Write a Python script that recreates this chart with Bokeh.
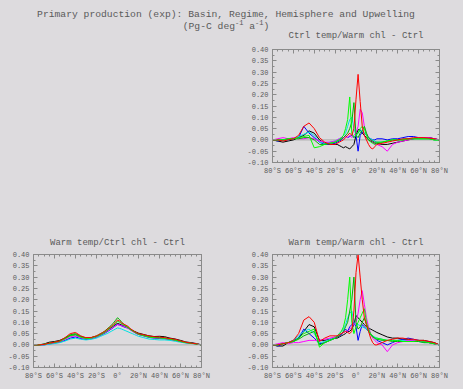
from bokeh.plotting import figure
from bokeh.layouts import column, row
from bokeh.models import Div, Range1d, FixedTicker, Span, Title, LinearAxis
from bokeh.embed import file_html
from bokeh.resources import INLINE

# ---------------- data ----------------
lat = [-80, -75, -70, -65, -60, -55, -50, -45, -40, -35, -30, -25,
       -20, -18, -16, -14, -12, -10, -8, -6, -4, -2, 0, 2, 4, 6, 8, 10, 12, 14, 16, 18, 20,
       25, 30, 35, 40, 45, 50, 55, 60, 65, 70, 75, 80]

x_ticks = [-80, -60, -40, -20, 0, 20, 40, 60, 80]
x_tick_labels = ["80°S", "60°S", "40°S", "20°S", "0°", "20°N", "40°N", "60°N", "80°N"]
x_minor = [-80, -75, -70, -65, -60, -55, -50, -45, -40, -35, -30, -25, -20, -15, -10, -5,
           0, 5, 10, 15, 20, 25, 30, 35, 40, 45, 50, 55, 60, 65, 70, 75, 80]
y_ticks = [-0.10, -0.05, 0.00, 0.05, 0.10, 0.15, 0.20, 0.25, 0.30, 0.35, 0.40]
y_tick_labels = ["-0.10", "-0.05", "0.00", "0.05", "0.10", "0.15", "0.20", "0.25", "0.30", "0.35", "0.40"]
y_minor = [-0.10, -0.075, -0.05, -0.025, 0.0, 0.025, 0.05, 0.075, 0.10, 0.125, 0.15, 0.175,
           0.20, 0.225, 0.25, 0.275, 0.30, 0.325, 0.35, 0.375, 0.40]

series_colors = ["#000000", "#0000ff", "#00e0e0", "#ff00ff", "#00b400", "#00ff00", "#ff0000"]

# Panel A: Ctrl temp/Warm chl - Ctrl
a_black = [0, -0.005, -0.01, -0.005, 0.0, 0.01, 0.02, 0.04, 0.03, 0.0, -0.015, -0.02,
           -0.02, -0.02, -0.025, -0.03, -0.035, -0.03, -0.035, -0.04, -0.03, -0.02, 0.02, 0.045, 0.045, 0.03, 0.02, 0.01, 0.0, -0.005, -0.01, -0.015, -0.015,
           -0.02, -0.02, -0.015, -0.01, -0.005, 0.0, 0.005, 0.01, 0.01, 0.01, 0.005, 0]
a_blue = [0, -0.005, 0.0, 0.0, 0.005, 0.01, 0.06, 0.03, 0.01, -0.01, -0.02, -0.02,
          -0.015, -0.01, -0.005, 0.0, 0.01, 0.02, 0.01, 0.015, 0.02, 0.01, 0.02, -0.05, 0.02, 0.035, 0.03, 0.02, 0.01, 0.005, 0.0, 0.0, 0.005,
          0.005, 0.0, 0.005, 0.005, 0.01, 0.015, 0.015, 0.01, 0.01, 0.01, 0.005, 0]
a_cyan = [0, 0, 0, 0.0, 0.005, 0.015, 0.025, 0.035, 0.02, -0.01, -0.015, -0.01,
          -0.005, 0.0, 0.005, 0.01, 0.02, 0.03, 0.06, 0.09, 0.1, 0.05, 0.02, 0.03, 0.04, 0.04, 0.03, 0.02, 0.01, 0.005, 0.0, -0.005, -0.01,
          -0.01, -0.005, 0.0, 0.0, 0.005, 0.005, 0.005, 0.005, 0.005, 0.005, 0.0, 0]
a_magenta = [0, 0.005, 0.01, 0.005, 0.01, 0.005, 0.005, 0.01, 0.005, -0.005, -0.01, -0.01,
             -0.005, 0.0, 0.005, 0.01, 0.01, 0.015, 0.01, 0.02, 0.01, 0.02, 0.03, 0.06, 0.135, 0.12, 0.06, 0.03, 0.01, 0.0, -0.01, -0.02, -0.02,
             -0.03, -0.05, -0.02, -0.01, -0.005, 0.0, 0.005, 0.01, 0.01, 0.01, 0.005, 0]
a_green = [0, 0, 0.0, 0.005, 0.005, 0.005, 0.01, 0.01, 0.0, -0.02, -0.02, -0.015,
           -0.01, -0.005, 0.0, 0.005, 0.01, 0.02, 0.03, 0.05, 0.08, 0.165, 0.02, 0.01, 0.03, 0.04, 0.06, 0.03, 0.01, 0.0, -0.005, -0.01, -0.01,
           -0.01, -0.005, 0.0, 0.0, 0.0, 0.005, 0.005, 0.005, 0.005, 0.005, 0.0, 0]
a_lime = [0, 0, 0, 0.005, 0.005, 0.01, 0.015, 0.02, -0.035, -0.03, -0.02, -0.015,
          -0.01, -0.005, 0.0, 0.01, 0.02, 0.05, 0.09, 0.19, 0.03, 0.01, 0.02, 0.03, 0.05, 0.06, 0.05, 0.02, 0.0, -0.01, -0.015, -0.02, -0.015,
          -0.01, -0.005, 0.0, 0.0, 0.0, 0.005, 0.005, 0.005, 0.005, 0.005, 0.0, 0]
a_red = [0, 0, -0.005, 0.0, 0.005, 0.02, 0.06, 0.075, 0.05, 0.01, -0.01, -0.02,
         -0.02, -0.015, -0.01, -0.005, 0.0, 0.01, 0.02, 0.03, 0.02, 0.05, 0.18, 0.29, 0.17, 0.06, 0.02, 0.0, -0.02, -0.035, -0.04, -0.03, -0.02,
         -0.015, -0.01, -0.005, 0.0, 0.005, 0.005, 0.01, 0.01, 0.01, 0.008, 0.005, 0]

# Panel B: Warm temp/Ctrl chl - Ctrl
b_black = [0, 0.0, 0.004, 0.012, 0.015, 0.02, 0.03, 0.042, 0.045, 0.035, 0.03, 0.032,
           0.038, 0.042, 0.046, 0.05, 0.055, 0.062, 0.07, 0.076, 0.082, 0.09, 0.095, 0.092, 0.088, 0.084, 0.08, 0.075, 0.07, 0.065, 0.06, 0.056, 0.052,
           0.046, 0.04, 0.037, 0.038, 0.036, 0.03, 0.026, 0.02, 0.013, 0.01, 0.006, 0]
b_blue = [0, 0.0, 0.0, 0.004, 0.008, 0.012, 0.02, 0.03, 0.035, 0.028, 0.024, 0.027,
          0.034, 0.038, 0.042, 0.047, 0.052, 0.058, 0.064, 0.07, 0.077, 0.084, 0.09, 0.088, 0.084, 0.08, 0.077, 0.074, 0.068, 0.062, 0.056, 0.05, 0.046,
          0.04, 0.033, 0.03, 0.028, 0.027, 0.024, 0.02, 0.014, 0.01, 0.008, 0.005, 0]
b_cyan = [0, 0.0, 0.0, 0.003, 0.006, 0.01, 0.017, 0.026, 0.03, 0.025, 0.022, 0.025,
          0.03, 0.034, 0.038, 0.042, 0.046, 0.05, 0.055, 0.06, 0.065, 0.07, 0.075, 0.073, 0.07, 0.066, 0.062, 0.058, 0.054, 0.05, 0.046, 0.042, 0.038,
          0.032, 0.026, 0.024, 0.022, 0.022, 0.02, 0.016, 0.012, 0.008, 0.006, 0.004, 0]
b_magenta = [0, 0.0, 0.002, 0.006, 0.01, 0.014, 0.024, 0.036, 0.04, 0.032, 0.027, 0.029,
             0.036, 0.04, 0.044, 0.049, 0.054, 0.06, 0.066, 0.072, 0.078, 0.085, 0.09, 0.088, 0.085, 0.082, 0.078, 0.073, 0.067, 0.06, 0.055, 0.05, 0.046,
             0.04, 0.034, 0.031, 0.03, 0.028, 0.025, 0.02, 0.015, 0.01, 0.007, 0.004, 0]
b_green = [0, 0.0, 0.003, 0.008, 0.012, 0.017, 0.03, 0.045, 0.05, 0.038, 0.03, 0.032,
           0.04, 0.045, 0.05, 0.055, 0.062, 0.07, 0.078, 0.087, 0.096, 0.108, 0.12, 0.112, 0.1, 0.092, 0.085, 0.078, 0.07, 0.064, 0.058, 0.053, 0.048,
           0.042, 0.036, 0.033, 0.032, 0.03, 0.026, 0.022, 0.016, 0.011, 0.008, 0.004, 0]
b_lime = [0, 0.0, 0.002, 0.007, 0.011, 0.015, 0.027, 0.04, 0.045, 0.034, 0.028, 0.03,
          0.037, 0.041, 0.045, 0.05, 0.056, 0.063, 0.07, 0.078, 0.086, 0.095, 0.105, 0.1, 0.094, 0.088, 0.082, 0.076, 0.069, 0.063, 0.057, 0.052, 0.047,
          0.041, 0.035, 0.032, 0.031, 0.029, 0.025, 0.021, 0.015, 0.01, 0.007, 0.004, 0]
b_red = [0, 0.0, 0.002, 0.008, 0.012, 0.018, 0.032, 0.05, 0.055, 0.04, 0.032, 0.033,
         0.04, 0.045, 0.05, 0.055, 0.06, 0.068, 0.075, 0.082, 0.09, 0.1, 0.11, 0.105, 0.097, 0.092, 0.087, 0.082, 0.073, 0.066, 0.06, 0.055, 0.05,
         0.045, 0.04, 0.036, 0.035, 0.032, 0.028, 0.025, 0.018, 0.012, 0.008, 0.005, 0]

# Panel C: Warm temp/Warm chl - Ctrl
c_black = [0, -0.005, -0.005, 0.01, 0.015, 0.03, 0.06, 0.09, 0.08, 0.02, 0.02, 0.025,
           0.03, 0.03, 0.035, 0.04, 0.045, 0.05, 0.06, 0.06, 0.07, 0.09, 0.13, 0.12, 0.11, 0.1, 0.09, 0.08, 0.075, 0.07, 0.065, 0.06, 0.055,
           0.045, 0.035, 0.03, 0.03, 0.025, 0.025, 0.02, 0.02, 0.02, 0.015, 0.01, 0]
c_blue = [0, -0.005, 0.005, 0.01, 0.02, 0.03, 0.07, 0.05, 0.03, 0.005, 0.01, 0.02,
          0.03, 0.035, 0.04, 0.045, 0.06, 0.07, 0.06, 0.08, 0.09, 0.1, 0.08, 0.02, 0.06, 0.09, 0.08, 0.07, 0.06, 0.05, 0.04, 0.03, 0.02,
          0.01, 0.0, 0.01, 0.02, 0.025, 0.03, 0.025, 0.02, 0.015, 0.01, 0.005, 0]
c_cyan = [0, 0, 0.005, 0.01, 0.02, 0.04, 0.06, 0.07, 0.05, 0.01, 0.015, 0.025,
          0.035, 0.04, 0.05, 0.06, 0.07, 0.09, 0.12, 0.14, 0.15, 0.1, 0.09, 0.09, 0.085, 0.08, 0.075, 0.07, 0.06, 0.05, 0.04, 0.035, 0.03,
          0.025, 0.02, 0.02, 0.02, 0.02, 0.02, 0.02, 0.015, 0.01, 0.01, 0.005, 0]
c_magenta = [0, 0.005, 0.01, 0.005, 0.01, 0.01, 0.015, 0.02, 0.02, 0.02, 0.025, 0.03,
             0.035, 0.04, 0.045, 0.05, 0.055, 0.06, 0.06, 0.07, 0.08, 0.09, 0.1, 0.14, 0.2, 0.24, 0.18, 0.12, 0.08, 0.05, 0.03, 0.02, 0.01,
             0.0, -0.03, 0.0, 0.01, 0.015, 0.02, 0.02, 0.02, 0.015, 0.01, 0.005, 0]
c_green = [0, 0, 0.005, 0.01, 0.015, 0.025, 0.04, 0.05, 0.06, 0.0, 0.01, 0.02,
           0.03, 0.035, 0.04, 0.05, 0.06, 0.08, 0.1, 0.15, 0.2, 0.3, 0.1, 0.07, 0.08, 0.1, 0.12, 0.09, 0.06, 0.045, 0.035, 0.03, 0.025,
           0.02, 0.02, 0.015, 0.015, 0.015, 0.015, 0.015, 0.015, 0.01, 0.01, 0.005, 0]
c_lime = [0, 0, 0.005, 0.01, 0.015, 0.03, 0.05, 0.06, 0.07, -0.01, 0.01, 0.02,
          0.03, 0.04, 0.05, 0.06, 0.08, 0.12, 0.2, 0.3, 0.1, 0.05, 0.08, 0.1, 0.12, 0.14, 0.16, 0.1, 0.07, 0.05, 0.04, 0.03, 0.03,
          0.025, 0.02, 0.02, 0.02, 0.015, 0.015, 0.015, 0.02, 0.015, 0.01, 0.005, 0]
c_red = [0, 0.0, 0.005, 0.01, 0.02, 0.05, 0.11, 0.125, 0.1, 0.015, 0.03, 0.04,
         0.04, 0.04, 0.045, 0.05, 0.055, 0.06, 0.055, 0.05, 0.06, 0.15, 0.32, 0.40, 0.30, 0.2, 0.12, 0.09, 0.06, 0.03, 0.01, 0.0, 0.0,
         0.01, 0.02, 0.025, 0.03, 0.03, 0.025, 0.025, 0.02, 0.02, 0.015, 0.01, 0]

panel_a = [a_black, a_blue, a_cyan, a_magenta, a_green, a_lime, a_red]
panel_b = [b_black, b_blue, b_cyan, b_magenta, b_green, b_lime, b_red]
panel_c = [c_black, c_blue, c_cyan, c_magenta, c_green, c_lime, c_red]

main_title_1 = "Primary production (exp): Basin, Regime, Hemisphere and Upwelling"
title_a = "Ctrl temp/Warm chl - Ctrl"
title_b = "Warm temp/Ctrl chl - Ctrl"
title_c = "Warm temp/Warm chl - Ctrl"

# ---------------- style ----------------
BG = "#dddbde"
AXC = "#8a8a8a"
TXT = "#5a5a5a"
FONT = "Liberation Mono"


def style_axis(ax):
    ax.axis_line_color = AXC
    ax.major_tick_line_color = AXC
    ax.minor_tick_line_color = AXC
    ax.major_tick_in = 4
    ax.major_tick_out = 0
    ax.minor_tick_in = 2
    ax.minor_tick_out = 0


def make_panel(title, series, width, height, left, right, top, bottom, standoff, border_alpha=1.0):
    p = figure(width=width, height=height, output_backend="svg", toolbar_location=None,
               x_range=Range1d(-80, 80), y_range=Range1d(-0.10, 0.40),
               min_border_left=left, min_border_right=right,
               min_border_top=top, min_border_bottom=bottom,
               background_fill_color=BG, border_fill_color=BG,
               border_fill_alpha=border_alpha,
               outline_line_color=AXC, outline_line_width=1)
    p.title = Title(text=title, align="center", text_font=FONT, text_font_size="9px",
                    text_font_style="normal", text_color=TXT, standoff=standoff)
    p.xgrid.visible = False
    p.ygrid.visible = False

    p.xaxis.ticker = FixedTicker(ticks=x_ticks, minor_ticks=x_minor)
    p.xaxis.major_label_overrides = {t: s for t, s in zip(x_ticks, x_tick_labels)}
    p.yaxis.ticker = FixedTicker(ticks=y_ticks, minor_ticks=y_minor)
    p.yaxis.major_label_overrides = {t: s for t, s in zip(y_ticks, y_tick_labels)}
    for ax in (p.xaxis[0], p.yaxis[0]):
        style_axis(ax)
        ax.major_label_text_font = FONT
        ax.major_label_text_font_size = "7px"
        ax.major_label_text_color = TXT
        ax.major_label_standoff = 4

    top_ax = LinearAxis(ticker=FixedTicker(ticks=x_ticks, minor_ticks=x_minor))
    top_ax.major_label_overrides = {t: "" for t in x_ticks}
    right_ax = LinearAxis(ticker=FixedTicker(ticks=y_ticks, minor_ticks=y_minor))
    right_ax.major_label_overrides = {t: "" for t in y_ticks}
    for ax in (top_ax, right_ax):
        style_axis(ax)
        ax.major_label_text_font_size = "7px"
        ax.major_label_standoff = 0
    p.add_layout(top_ax, "above")
    p.add_layout(right_ax, "right")

    p.add_layout(Span(location=0, dimension="width", line_color="#a8a8a8",
                      line_width=1, level="underlay"))
    for vals, col in zip(series, series_colors):
        p.line(lat, vals, line_color=col, line_width=1)
    return p


sup = "<span style='font-size:7px;position:relative;top:-4px'>-1</span>"
head = Div(text="<div style='padding-top:9px'>" + main_title_1 +
           "<br>(Pg-C deg" + sup + " a" + sup + ")</div>",
           width=452, height=20, margin=(0, 0, 0, 0),
           styles={"font-family": FONT, "font-size": "9.7px", "line-height": "12px",
                   "text-align": "center", "color": TXT, "width": "452px",
                   "overflow": "visible"})

fa = make_panel(title_a, panel_a, 463, 206, 272, 24, 29, 64, 17, border_alpha=0.0)
fb = make_panel(title_b, panel_b, 231, 163, 33, 30, 28, 22, 13)
fc = make_panel(title_c, panel_c, 232, 163, 41, 24, 28, 22, 13)

layout = column(head, fa, row(fb, fc, spacing=0), spacing=0,
                styles={"background-color": BG})

html = file_html(layout, INLINE)
html = html.replace("<body>", "<body style=\"background-color:%s;\">" % BG, 1)
open("out.html", "w").write(html)
